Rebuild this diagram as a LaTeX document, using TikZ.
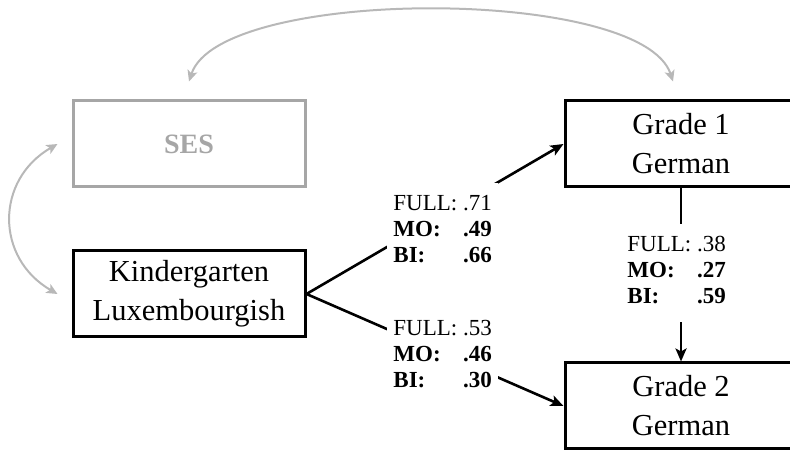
\documentclass[tikz,border=0pt]{standalone}
\usepackage{fontspec}
\setmainfont{Liberation Serif}
\usetikzlibrary{arrows.meta, positioning}

\begin{document}
\begin{tikzpicture}[
    x=0.5pt, y=0.5pt,
    box/.style={rectangle, draw, line width=1.5pt, minimum width=116pt, minimum height=43pt, align=center, font=\fontsize{15.25}{19.5}\selectfont},
    greybox/.style={box, draw=black!35, text=black!35, font=\fontsize{14}{16}\selectfont\bfseries},
    coef/.style={fill=white, inner xsep=3pt, inner ysep=5pt, anchor=base west, font=\fontsize{11.5}{13}\selectfont},
    arrow/.style={->, line width=1.3pt, >={Stealth[length=6.5pt, width=5.5pt, inset=1.5pt]}},
    corr/.style={<->, line width=1pt, draw=black!28, >={Stealth[length=5.5pt, width=5pt, inset=1.3pt]}}
]
\useasboundingbox (0,0) rectangle (790,453);
\clip (0,0) rectangle (790,453);

% Variables
\node[greybox] (ses) at (189,309) {SES};
\node[box, below=30.5pt of ses] (kinder) {Kindergarten\\Luxembourgish};
\node[box, right=128.5pt of ses] (grade1) {Grade 1\\German};
\node[box, below=86.5pt of grade1] (grade2) {Grade 2\\German};

% Correlations
\draw[corr] ([yshift=9pt]ses.north) to[out=72, in=108, looseness=0.53] ([xshift=-4pt, yshift=9pt]grade1.north);
\draw[corr] ([xshift=-7pt]ses.west) to[out=210, in=150, looseness=1.23] ([xshift=-7pt]kinder.west);

% Paths
\draw[arrow] (kinder.east) -- (grade1.west);
\draw[arrow] (kinder.east) -- (grade2.west);
\draw[arrow] (grade1.south) -- (grade2.north);

% Coefficients
\node[coef] (c1) at (387,242) {\begin{tabular}[t]{@{}l@{\ }l@{}}FULL: & .71\\ \textbf{MO:} & \textbf{.49}\\ \textbf{BI:} & \textbf{.66}\end{tabular}};
\node[coef] (c2) at (387,117) {\begin{tabular}[t]{@{}l@{\ }l@{}}FULL: & .53\\ \textbf{MO:} & \textbf{.46}\\ \textbf{BI:} & \textbf{.30}\end{tabular}};
\node[coef] (c3) at (621,201) {\begin{tabular}[t]{@{}l@{\ }l@{}}FULL: & .38\\ \textbf{MO:} & \textbf{.27}\\ \textbf{BI:} & \textbf{.59}\end{tabular}};

\end{tikzpicture}
\end{document}
